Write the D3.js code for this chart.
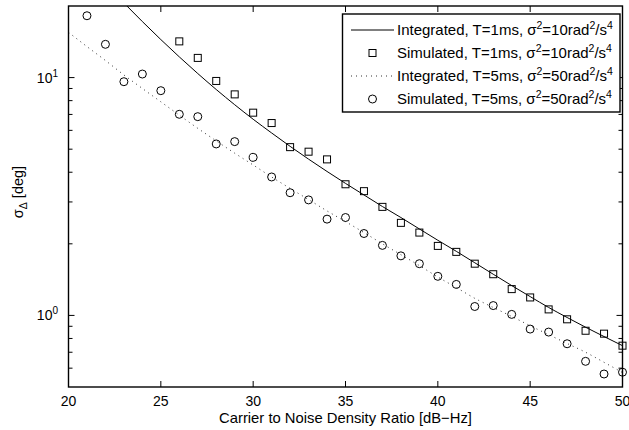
<!DOCTYPE html>
<html>
<head>
<meta charset="utf-8">
<script src="https://cdn.jsdelivr.net/npm/d3@7"></script>
<style>
  html, body { margin: 0; padding: 0; background: #fff; }
  svg { display: block; font-family: "Liberation Sans", Arial, Helvetica, sans-serif; }
</style>
</head>
<body>
<svg id="chart" width="629" height="430"></svg>
<script>
// Carrier-to-noise density ratio [dB-Hz]
const cn0Integrated1 = [23,24,25,26,27,28,29,30,31,32,33,34,35,36,37,38,39,40,41,42,43,44,45,46,47,48,49,50];
const sigmaIntegrated1 = [20.6,17.2,14.45,12.22,10.40,8.91,7.69,6.68,5.85,5.14,4.54,4.03,3.59,3.21,2.87,2.58,2.31,2.07,1.86,1.665,1.49,1.335,1.20,1.08,0.98,0.892,0.815,0.746];

const cn0Simulated1 = [26,27,28,29,30,31,32,33,34,35,36,37,38,39,40,41,42,43,44,45,46,47,48,49,50];
const sigmaSimulated1 = [14.2,12.1,9.68,8.50,7.12,6.44,5.10,4.88,4.53,3.56,3.33,2.86,2.45,2.23,1.96,1.85,1.65,1.49,1.29,1.19,1.06,0.963,0.862,0.838,0.746];

const cn0Integrated5 = [20,21,22,23,24,25,26,27,28,29,30,31,32,33,34,35,36,37,38,39,40,41,42,43,44,45,46,47,48,49,50];
const sigmaIntegrated5 = [15.5,13.5,11.8,10.26,9.00,7.91,6.95,6.12,5.42,4.81,4.29,3.82,3.42,3.07,2.75,2.48,2.23,2.00,1.80,1.62,1.45,1.31,1.18,1.08,0.99,0.905,0.83,0.762,0.70,0.635,0.575];

const cn0Simulated5 = [21,22,23,24,25,26,27,28,29,30,31,32,33,34,35,36,37,38,39,40,41,42,43,44,45,46,47,48,49,50];
const sigmaSimulated5 = [18.2,13.8,9.61,10.35,8.81,7.01,6.85,5.26,5.38,4.62,3.82,3.28,3.06,2.54,2.58,2.21,1.97,1.78,1.65,1.46,1.35,1.09,1.10,1.01,0.876,0.851,0.760,0.641,0.567,0.577];

const xTicks = [20,25,30,35,40,45,50];
const yMajorTicks = [1,10];
const yMinorTicks = [0.6,0.7,0.8,0.9,2,3,4,5,6,7,8,9];

const legendLabels = [
  {kind: "solid",  text: ["Integrated, T=1ms, σ", "2", "=10rad", "2", "/s", "4"]},
  {kind: "square", text: ["Simulated, T=1ms, σ", "2", "=10rad", "2", "/s", "4"]},
  {kind: "dotted", text: ["Integrated, T=5ms, σ", "2", "=50rad", "2", "/s", "4"]},
  {kind: "circle", text: ["Simulated, T=5ms, σ", "2", "=50rad", "2", "/s", "4"]}
];

const svg = d3.select("#chart");
svg.append("rect").attr("width", 629).attr("height", 430).attr("fill", "#fff");

const plotLeft = 68.5, plotRight = 622.5, plotTop = 6, plotBottom = 387;
const x = d3.scaleLinear().domain([20, 50]).range([plotLeft, plotRight]);
const y = d3.scaleLog().domain([0.5, 20]).range([plotBottom, plotTop]);

svg.append("clipPath").attr("id", "plotClip")
  .append("rect").attr("x", plotLeft).attr("y", plotTop)
  .attr("width", plotRight - plotLeft).attr("height", plotBottom - plotTop);

const plot = svg.append("g").attr("clip-path", "url(#plotClip)");

const line = d3.line().x(d => x(d[0])).y(d => y(d[1])).curve(d3.curveMonotoneX);

// Integrated curves
plot.append("path")
  .datum(d3.zip(cn0Integrated1, sigmaIntegrated1))
  .attr("d", line)
  .attr("fill", "none").attr("stroke", "#000").attr("stroke-width", 1);

plot.append("path")
  .datum(d3.zip(cn0Integrated5, sigmaIntegrated5))
  .attr("d", line)
  .attr("fill", "none").attr("stroke", "#333").attr("stroke-width", 1)
  .attr("stroke-dasharray", "1,4");

// Simulated markers
const sq = 7;
svg.append("g").selectAll("rect")
  .data(d3.zip(cn0Simulated1, sigmaSimulated1))
  .join("rect")
  .attr("x", d => x(d[0]) - sq / 2).attr("y", d => y(d[1]) - sq / 2)
  .attr("width", sq).attr("height", sq)
  .attr("fill", "none").attr("stroke", "#000").attr("stroke-width", 1);

svg.append("g").selectAll("circle")
  .data(d3.zip(cn0Simulated5, sigmaSimulated5))
  .join("circle")
  .attr("cx", d => x(d[0])).attr("cy", d => y(d[1])).attr("r", 4)
  .attr("fill", "none").attr("stroke", "#000").attr("stroke-width", 1);

// Axes box
svg.append("rect")
  .attr("x", plotLeft).attr("y", plotTop)
  .attr("width", plotRight - plotLeft).attr("height", plotBottom - plotTop)
  .attr("fill", "none").attr("stroke", "#000").attr("stroke-width", 1.4);

// Ticks (inward, mirrored on opposite sides)
const tickG = svg.append("g").attr("stroke", "#000").attr("stroke-width", 1);
xTicks.forEach(t => {
  tickG.append("line").attr("x1", x(t)).attr("x2", x(t)).attr("y1", plotBottom).attr("y2", plotBottom - 6);
  tickG.append("line").attr("x1", x(t)).attr("x2", x(t)).attr("y1", plotTop).attr("y2", plotTop + 6);
});
yMajorTicks.forEach(t => {
  tickG.append("line").attr("x1", plotLeft).attr("x2", plotLeft + 6).attr("y1", y(t)).attr("y2", y(t));
  tickG.append("line").attr("x1", plotRight).attr("x2", plotRight - 6).attr("y1", y(t)).attr("y2", y(t));
});
yMinorTicks.forEach(t => {
  tickG.append("line").attr("x1", plotLeft).attr("x2", plotLeft + 4).attr("y1", y(t)).attr("y2", y(t));
  tickG.append("line").attr("x1", plotRight).attr("x2", plotRight - 4).attr("y1", y(t)).attr("y2", y(t));
});

// Tick labels
svg.append("g").selectAll("text")
  .data(xTicks).join("text")
  .attr("x", d => x(d)).attr("y", 405.5)
  .attr("text-anchor", "middle").attr("font-size", 14).attr("fill", "#000")
  .text(d => d);

const yLab = svg.append("g").selectAll("text")
  .data(yMajorTicks).join("text")
  .attr("x", 58).attr("y", d => y(d) + 5)
  .attr("text-anchor", "end").attr("font-size", 14).attr("fill", "#000");
yLab.append("tspan").text("10");
yLab.append("tspan").attr("dy", -6).attr("font-size", 10).text(d => Math.round(Math.log10(d)));

// Axis titles
svg.append("text")
  .attr("x", (plotLeft + plotRight) / 2).attr("y", 423)
  .attr("text-anchor", "middle").attr("font-size", 14.8).attr("fill", "#000")
  .text("Carrier to Noise Density Ratio [dB\u2212Hz]");

const yTitle = svg.append("text")
  .attr("transform", `translate(23,192) rotate(-90)`)
  .attr("text-anchor", "middle").attr("font-size", 14.5).attr("fill", "#000");
yTitle.append("tspan").text("σ");
yTitle.append("tspan").attr("dy", 4).attr("font-size", 10.5).text("Δ");
yTitle.append("tspan").attr("dy", -4).text(" [deg]");

// Legend
const lg = svg.append("g");
lg.append("rect").attr("x", 342.5).attr("y", 14).attr("width", 277.5).attr("height", 98)
  .attr("fill", "#fff").attr("stroke", "#000").attr("stroke-width", 1.4);

const rowY = [30, 53, 76, 99];
legendLabels.forEach((item, i) => {
  const cy = rowY[i];
  if (item.kind === "solid") {
    lg.append("line").attr("x1", 351).attr("x2", 394).attr("y1", cy).attr("y2", cy)
      .attr("stroke", "#000").attr("stroke-width", 1);
  } else if (item.kind === "dotted") {
    lg.append("line").attr("x1", 351).attr("x2", 394).attr("y1", cy).attr("y2", cy)
      .attr("stroke", "#333").attr("stroke-width", 1).attr("stroke-dasharray", "1,4");
  } else if (item.kind === "square") {
    lg.append("rect").attr("x", 372.5 - sq / 2).attr("y", cy - sq / 2).attr("width", sq).attr("height", sq)
      .attr("fill", "none").attr("stroke", "#000").attr("stroke-width", 1);
  } else {
    lg.append("circle").attr("cx", 372.5).attr("cy", cy).attr("r", 4)
      .attr("fill", "none").attr("stroke", "#000").attr("stroke-width", 1);
  }
  const t = lg.append("text").attr("x", 397).attr("y", cy + 5)
    .attr("font-size", 15).attr("fill", "#000");
  item.text.forEach((s, k) => {
    if (k % 2 === 1) {
      t.append("tspan").attr("dy", -6).attr("font-size", 10.5).text(s);
    } else if (k > 0) {
      t.append("tspan").attr("dy", 6).text(s);
    } else {
      t.append("tspan").text(s);
    }
  });
});
</script>
</body>
</html>
